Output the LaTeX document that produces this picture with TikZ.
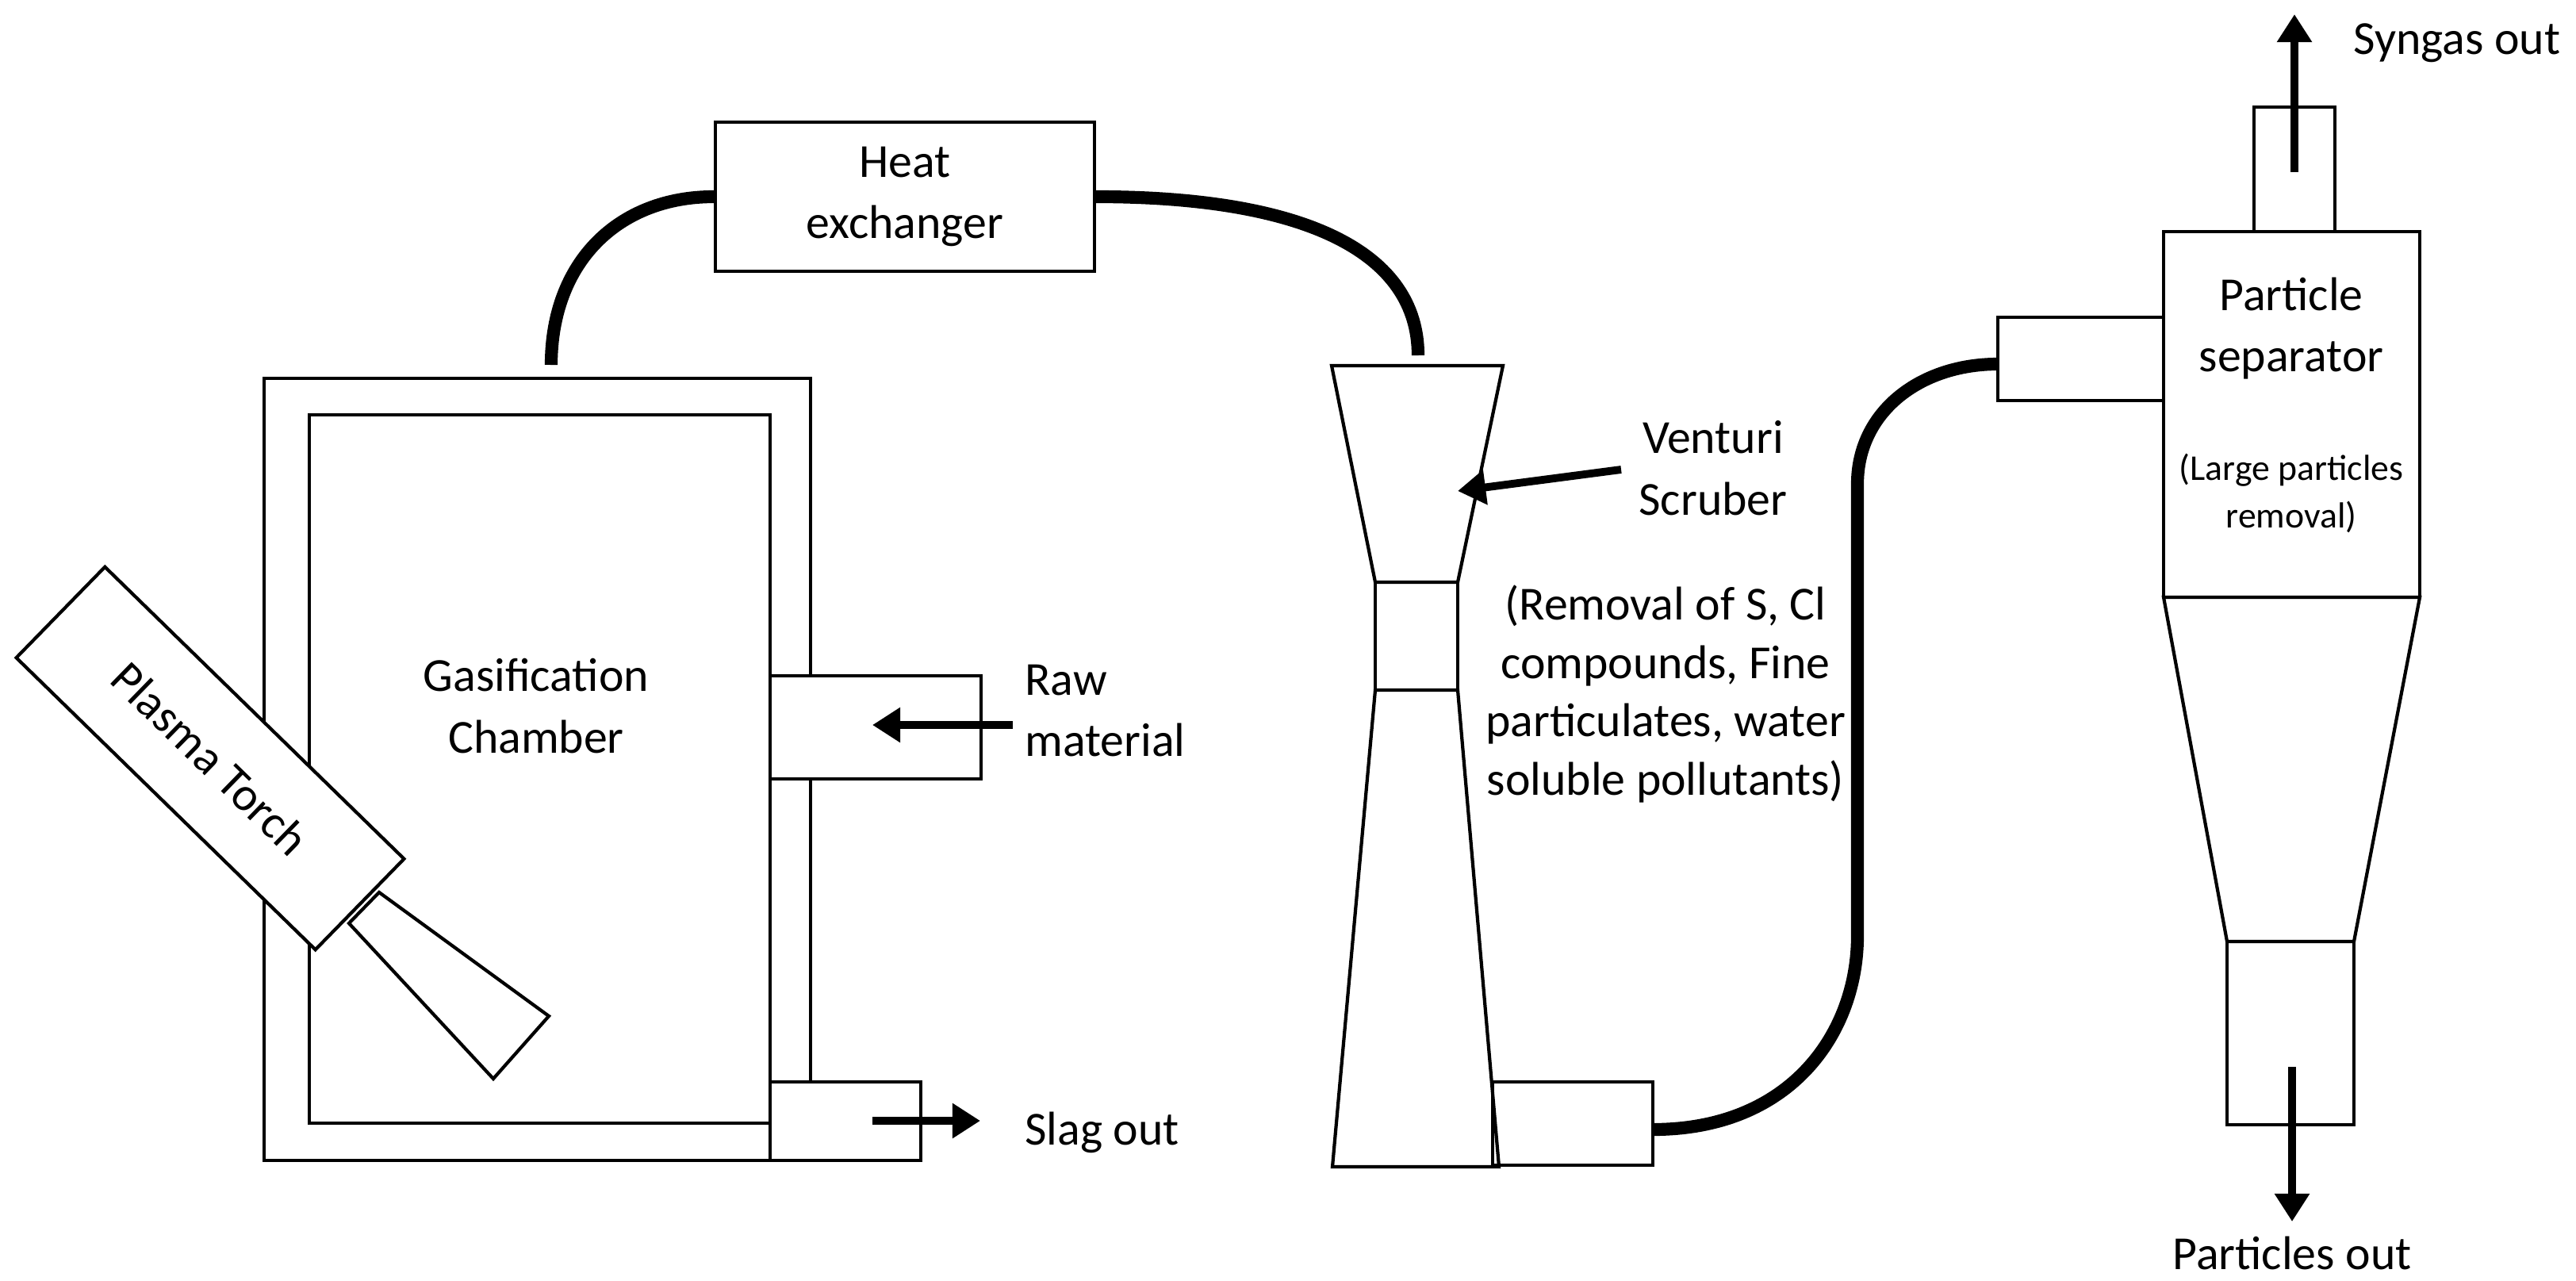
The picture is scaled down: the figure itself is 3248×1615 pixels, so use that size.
\documentclass[tikz,border=0pt]{standalone}
\usepackage{fontspec}
\setmainfont{Carlito}
\usetikzlibrary{arrows.meta}
\begin{document}
\begin{tikzpicture}[x=0.01cm,y=-0.01cm,
  box/.style={draw,line width=1.2pt},
  pipe/.style={line width=4.6pt},
  arr/.style={line width=2.8pt,-{Triangle[length=10pt,width=12pt]}},
  lbl/.style={font=\fontsize{17}{22}\selectfont,align=center},
  sml/.style={font=\fontsize{13}{17}\selectfont,align=center}]
\useasboundingbox (0,0) rectangle (3248,1615);
% gasification chamber
\draw[box] (333,477) rectangle (1022,1463);
\draw[box] (390,523) rectangle (971,1416);
\node[lbl] (gc) at (676,890) {Gasification\\Chamber};
\draw[box,fill=white] (971,852) rectangle (1237,982);
\coordinate (rawA) at (1277,914); \coordinate (rawB) at (1100,914);
\draw[arr] (rawA) -- (rawB);
\node[lbl,align=left,anchor=west] (raw) at (1280,896) {Raw\\material};
\draw[box,fill=white] (971,1364) rectangle (1161,1463);
\coordinate (slA) at (1100,1413); \coordinate (slB) at (1236,1413);
\draw[arr] (slA) -- (slB);
\node[lbl,anchor=west] (slag) at (1280,1428) {Slag out};
% plasma torch
\draw[box,fill=white] (440,1164) -- (478,1125) -- (692,1281) -- (622,1360) -- cycle;
\node[box,fill=white,rotate=-44.3,minimum width=527*0.01cm,minimum height=160*0.01cm,lbl] (pt) at (265,956) {Plasma Torch};
% heat exchanger
\node[box,lbl,minimum width=478*0.01cm,minimum height=188*0.01cm] (hx) at (1141,248) {Heat\\exchanger};
\coordinate (g1) at (695,460); \coordinate (v1) at (1788,448);
\draw[pipe] (g1) .. controls (695,330) and (780,248) .. (hx.west);
\draw[pipe] (hx.east) .. controls (1650,248) and (1788,320) .. (v1);
% venturi
\draw[box] (1679,461) -- (1895,461) -- (1838,734) -- (1734,734) -- cycle;
\draw[box] (1734,734) rectangle (1838,870);
\draw[box] (1734,870) -- (1838,870) -- (1890,1471) -- (1680,1471) -- cycle;
\draw[box] (1882,1364) rectangle (2084,1469);
\coordinate (vA) at (2044,592); \coordinate (vB) at (1838,619);
\draw[arr] (vA) -- (vB);
\node[lbl] (vs) at (2160,590) {Venturi\\Scruber};
\node[lbl,font=\fontsize{17}{21}\selectfont] (vsd) at (2100,875) {(Removal of S, Cl\\compounds, Fine\\particulates, water\\soluble pollutants)};
% pipe to separator
\coordinate (v2) at (2084,1424); \coordinate (s1) at (2519,459);
\draw[pipe] (v2) .. controls (2260,1424) and (2342,1300) .. (2342,1180) -- (2342,610) .. controls (2342,520) and (2420,459) .. (s1);
\draw[box] (2519,400) rectangle (2728,505);
% particle separator
\draw[box] (2842,135) rectangle (2944,292);
\draw[box] (2728,292) rectangle (3051,753);
\node[lbl] (ps) at (2889,414) {Particle\\separator};
\node[sml] (psd) at (2889,622) {(Large particles\\removal)};
\draw[box] (2728,753) -- (3051,753) -- (2968,1187) -- (2808,1187) -- cycle;
\draw[box] (2808,1187) rectangle (2968,1418);
\coordinate (sA) at (2893,217); \coordinate (sB) at (2893,18);
\draw[arr] (sA) -- (sB);
\node[lbl,anchor=west] (syn) at (2955,54) {Syngas out};
\coordinate (pA) at (2890,1345); \coordinate (pB) at (2890,1540);
\draw[arr] (pA) -- (pB);
\node[lbl] (po) at (2890,1580) {Particles out};
\end{tikzpicture}
\end{document}
